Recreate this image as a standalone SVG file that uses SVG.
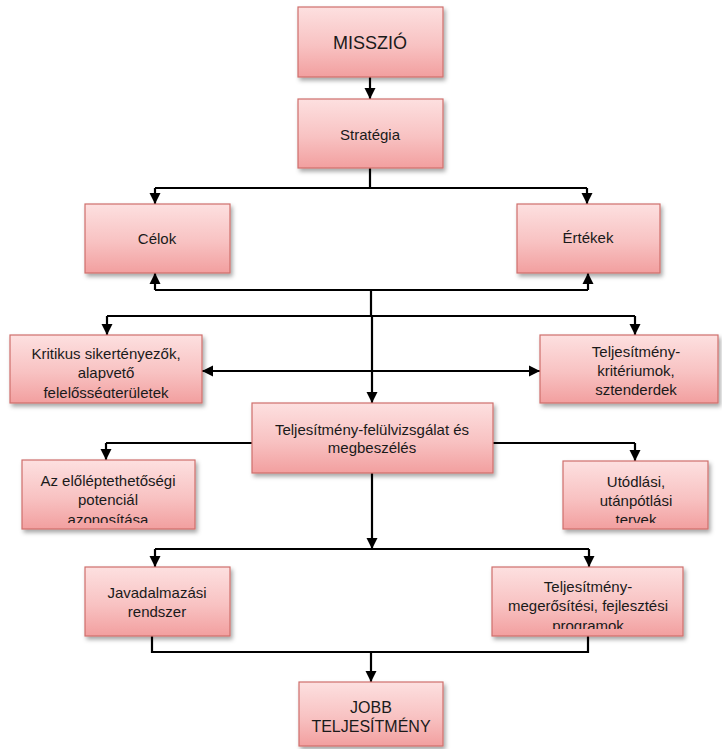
<svg xmlns="http://www.w3.org/2000/svg" width="722" height="749" viewBox="0 0 722 749">
  <defs>
    <linearGradient id="boxFill" x1="0" y1="0" x2="0" y2="1">
      <stop offset="0" stop-color="#fde0e0"/>
      <stop offset="0.55" stop-color="#f8c2c2"/>
      <stop offset="1" stop-color="#f29f9f"/>
    </linearGradient>
    <filter id="shadow" x="-10%" y="-10%" width="125%" height="135%">
      <feDropShadow dx="2" dy="3" stdDeviation="2" flood-color="#000" flood-opacity="0.35"/>
    </filter>
    <marker id="arrow" markerUnits="userSpaceOnUse" markerWidth="12" markerHeight="12" viewBox="0 0 12 12" refX="11" refY="6" orient="auto-start-reverse">
      <path d="M0,0.5 L11,6 L0,11.5 Z" fill="#000"/>
    </marker>
    <!-- text areas that are cut off at the bottom edge of their boxes -->
    <clipPath id="clipKrit"><rect x="10" y="335" width="192" height="63"/></clipPath>
    <clipPath id="clipAz"><rect x="22" y="460" width="173" height="63"/></clipPath>
    <clipPath id="clipUtod"><rect x="563" y="461" width="145" height="62"/></clipPath>
    <clipPath id="clipMeg"><rect x="492" y="567" width="191" height="62"/></clipPath>
    <clipPath id="clipKrit2"><rect x="540" y="335" width="178" height="64"/></clipPath>
  </defs>
  <style>
    .box { fill: url(#boxFill); stroke: #cf6f6c; stroke-width: 1.2; filter: url(#shadow); }
    .lbl { font-family: "Liberation Sans", Arial, sans-serif; font-size: 15px; fill: #1a1a1a; text-anchor: middle; }
    .big { font-size: 18px; }
    .mid { font-size: 16px; }
    .wire { fill: none; stroke: #000; stroke-width: 2.2; }
    .arr { marker-end: url(#arrow); }
  </style>

  <!-- connectors -->
  <g id="connectors">
    <path class="wire arr" d="M370,77 V99"/>
    <path class="wire" d="M370,168 V188 M155,188 H587"/>
    <path class="wire arr" d="M155,188 V204"/>
    <path class="wire arr" d="M587,188 V204"/>
    <path class="wire" d="M155,290 H588"/>
    <path class="wire arr" d="M155,290 V273"/>
    <path class="wire arr" d="M588,290 V273"/>
    <path class="wire" d="M371,290 V316 M107,316 H635"/>
    <path class="wire arr" d="M107,316 V335"/>
    <path class="wire arr" d="M635,316 V335"/>
    <path class="wire arr" d="M372,316 V403"/>
    <path class="wire arr" d="M202,371 H540" marker-start="url(#arrow)"/>
    <path class="wire" d="M106,443 H252 M493,443 H635"/>
    <path class="wire arr" d="M106,443 V460"/>
    <path class="wire arr" d="M635,443 V461"/>
    <path class="wire arr" d="M372,473 V549"/>
    <path class="wire" d="M155,549 H589"/>
    <path class="wire arr" d="M155,549 V567"/>
    <path class="wire arr" d="M589,549 V567"/>
    <path class="wire" d="M152,636 V652 H588 V636"/>
    <path class="wire arr" d="M371,652 V682"/>
  </g>

  <g id="misszio">
    <rect class="box" x="298" y="7" width="145" height="70"/>
    <text class="lbl big" x="370" y="49">MISSZIÓ</text>
  </g>

  <g id="strategia">
    <rect class="box" x="298" y="99" width="145" height="69"/>
    <text class="lbl" x="370" y="140">Stratégia</text>
  </g>

  <g id="celok">
    <rect class="box" x="85" y="204" width="145" height="69"/>
    <text class="lbl" x="157" y="244">Célok</text>
  </g>

  <g id="ertekek">
    <rect class="box" x="517" y="204" width="143" height="69"/>
    <text class="lbl" x="588" y="243">Értékek</text>
  </g>

  <g id="kritikus">
    <rect class="box" x="10" y="335" width="192" height="68"/>
    <g clip-path="url(#clipKrit)">
      <text class="lbl" x="106" y="359">Kritikus sikertényezők,</text>
      <text class="lbl" x="106" y="378">alapvető</text>
      <text class="lbl" x="106" y="398">felelősségterületek</text>
    </g>
  </g>

  <g id="kriteriumok">
    <rect class="box" x="540" y="335" width="178" height="68"/>
    <g clip-path="url(#clipKrit2)">
      <text class="lbl" x="636" y="357">Teljesítmény-</text>
      <text class="lbl" x="636" y="376">kritériumok,</text>
      <text class="lbl" x="636" y="395">sztenderdek</text>
    </g>
  </g>

  <g id="felulvizsgalat">
    <rect class="box" x="252" y="403" width="241" height="70"/>
    <text class="lbl" x="372" y="435">Teljesítmény-felülvizsgálat és</text>
    <text class="lbl" x="372" y="453">megbeszélés</text>
  </g>

  <g id="eloleptetes">
    <rect class="box" x="22" y="460" width="173" height="69"/>
    <g clip-path="url(#clipAz)">
      <text class="lbl" x="108" y="486">Az előléptethetőségi</text>
      <text class="lbl" x="108" y="505">potenciál</text>
      <text class="lbl" x="108" y="525">azonosítása</text>
    </g>
  </g>

  <g id="utodlas">
    <rect class="box" x="563" y="461" width="145" height="68"/>
    <g clip-path="url(#clipUtod)">
      <text class="lbl" x="636" y="487">Utódlási,</text>
      <text class="lbl" x="636" y="506">utánpótlási</text>
      <text class="lbl" x="636" y="525">tervek</text>
    </g>
  </g>

  <g id="javadalmazas">
    <rect class="box" x="85" y="567" width="145" height="69"/>
    <text class="lbl" x="157" y="598">Javadalmazási</text>
    <text class="lbl" x="157" y="617">rendszer</text>
  </g>

  <g id="megerosites">
    <rect class="box" x="492" y="567" width="191" height="69"/>
    <g clip-path="url(#clipMeg)">
      <text class="lbl" x="588" y="592">Teljesítmény-</text>
      <text class="lbl" x="588" y="611">megerősítési, fejlesztési</text>
      <text class="lbl" x="588" y="631">programok</text>
    </g>
  </g>

  <g id="jobb">
    <rect class="box" x="299" y="682" width="144" height="64"/>
    <text class="lbl mid" x="371" y="713">JOBB</text>
    <text class="lbl mid" x="371" y="732">TELJESÍTMÉNY</text>
  </g>
</svg>
